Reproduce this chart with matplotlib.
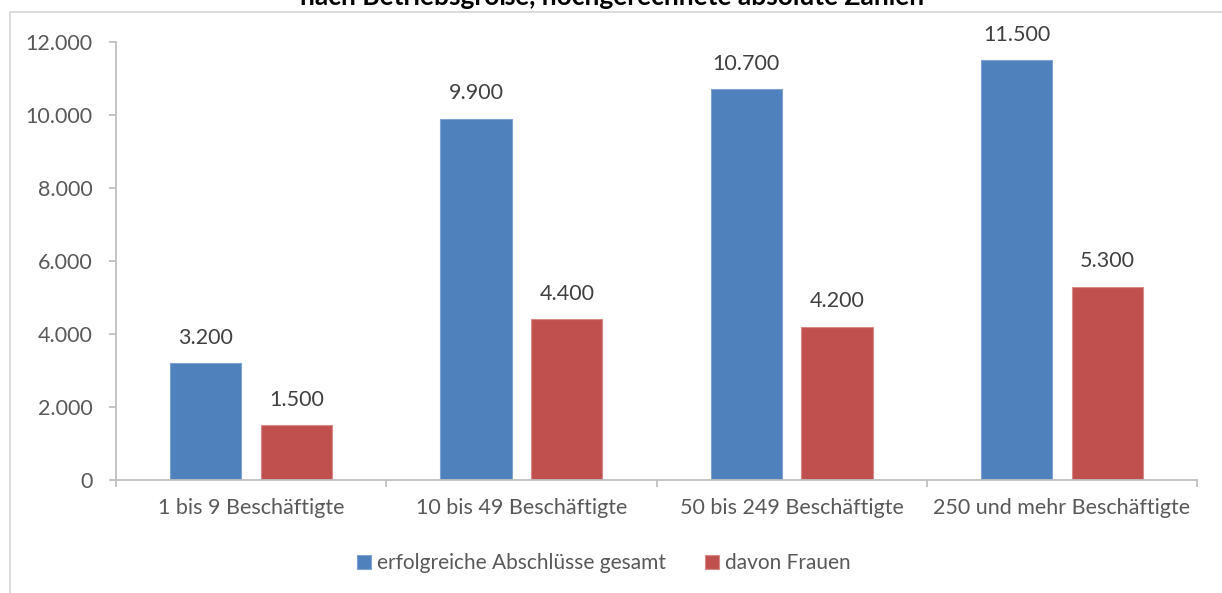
import matplotlib
matplotlib.use("Agg")
import matplotlib.pyplot as plt
from matplotlib.patches import Rectangle
import numpy as np

categories = ["1 bis 9 Beschäftigte", "10 bis 49 Beschäftigte",
              "50 bis 249 Beschäftigte", "250 und mehr Beschäftigte"]
gesamt = [3200, 9900, 10700, 11500]
frauen = [1500, 4400, 4200, 5300]
series_names = ["erfolgreiche Abschlüsse gesamt", "davon Frauen"]
yticks = [0, 2000, 4000, 6000, 8000, 10000, 12000]
title = "nach Betriebsgröße, hochgerechnete absolute Zahlen"

W, H = 1222, 593
plt.rcParams['font.family'] = ['Lato', 'DejaVu Sans']
fig = plt.figure(figsize=(W/100, H/100), dpi=100)

def fx(px): return px / W
def fy(py): return 1 - py / H

# outer chart border
fig.patches.append(Rectangle((fx(9.5), fy(H + 20)), 1.2, fy(11.5) - fy(H + 20),
                             transform=fig.transFigure, fill=False,
                             edgecolor="#D9D9D9", lw=1.3, zorder=0))

fig.text(fx(612), fy(5), title, ha="center", va="baseline",
         fontsize=19, fontweight="bold", color="black")

ax = fig.add_axes([fx(116), fy(480), fx(1197) - fx(116), fy(42) - fy(480)])
x = np.arange(len(categories))
bw = 0.263
off = 0.168
c_blue = "#4F81BD"
c_red = "#C0504D"
txt = "#595959"
axc = "#BFBFBF"
fs = 15.5

b1 = ax.bar(x - off, gesamt, bw, color=c_blue, edgecolor="#7FA3D3", lw=0.8,
            label=series_names[0])
b2 = ax.bar(x + off, frauen, bw, color=c_red, edgecolor="#D88A88", lw=0.8,
            label=series_names[1])

def fmt(v):
    return f"{v:,.0f}".replace(",", ".")

for bars, vals in ((b1, gesamt), (b2, frauen)):
    for r, v in zip(bars, vals):
        ax.annotate(fmt(v), (r.get_x() + r.get_width()/2, v), xytext=(0, 11),
                    textcoords="offset points", ha="center", va="bottom",
                    fontsize=fs, color="#404040")

ax.set_xlim(-0.5, len(categories) - 0.5)
ax.set_ylim(0, 12000)
ax.set_yticks(yticks)
ax.set_yticklabels([fmt(v) for v in yticks])
ax.set_xticks(x)
ax.set_xticklabels(categories)
ax.set_xticks(np.arange(-0.5, len(categories)), minor=True)
ax.tick_params(axis="x", which="major", length=0, pad=13, labelsize=fs, labelcolor=txt)
ax.tick_params(axis="x", which="minor", length=5, color=axc, width=1.3)
ax.tick_params(axis="y", length=5, color=axc, width=1.3, pad=12, labelsize=fs, labelcolor=txt)

for s in ("top", "right"):
    ax.spines[s].set_visible(False)
for s in ("left", "bottom"):
    ax.spines[s].set_color(axc)
    ax.spines[s].set_linewidth(1.3)

leg = fig.legend(handles=[b1, b2], labels=series_names, loc="center",
                 bbox_to_anchor=(fx(604), fy(563)), ncol=2, frameon=False,
                 fontsize=15, handlelength=0.65, handleheight=0.65,
                 handletextpad=0.3, columnspacing=1.9, labelcolor=txt)

fig.savefig("out.png", dpi=100)
